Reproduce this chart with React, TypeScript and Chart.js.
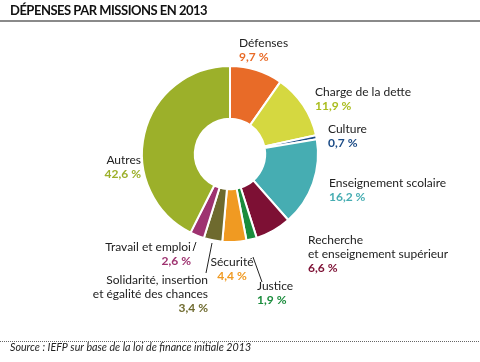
import React, { useEffect, useRef } from "react";
import { Chart, registerables } from "chart.js";

Chart.register(...registerables);

const categories = [
  "Défenses",
  "Charge de la dette",
  "Culture",
  "Enseignement scolaire",
  "Recherche\net enseignement supérieur",
  "Justice",
  "Sécurité",
  "Solidarité, insertion\net égalité des chances",
  "Travail et emploi",
  "Autres",
];
const values = [9.7, 11.9, 0.7, 16.2, 6.6, 1.9, 4.4, 3.4, 2.6, 42.6];
const colors = [
  "#E86B28",
  "#D5D840",
  "#1C4C87",
  "#46ADB2",
  "#7D1034",
  "#1A8C3C",
  "#F09A22",
  "#6E6A2E",
  "#9E3270",
  "#9CB02A",
];
const valueColors = [
  "#E86B28",
  "#AABD1E",
  "#1C4C87",
  "#46ADB2",
  "#7D1034",
  "#1A8C3C",
  "#F09A22",
  "#6E6A2E",
  "#9E3270",
  "#9CB02A",
];
// label anchor offsets from the doughnut centre, text alignment, leader line
const labelPos: { dx: number; dy: number; align: CanvasTextAlign; leader?: [number, number, number, number] }[] = [
  { dx: 9, dy: -111, align: "left" },
  { dx: 85, dy: -62, align: "left" },
  { dx: 98, dy: -25, align: "left" },
  { dx: 99, dy: 29, align: "left" },
  { dx: 78, dy: 86, align: "left" },
  { dx: 27, dy: 132, align: "left", leader: [23, 103, 32, 128] },
  { dx: 2, dy: 108, align: "center" },
  { dx: -22, dy: 126, align: "right", leader: [-18, 89, -24, 119] },
  { dx: -39, dy: 93, align: "right", leader: [-34, 88, -37, 97] },
  { dx: -89, dy: 6, align: "right" },
];
const title = "DÉPENSES PAR MISSIONS EN 2013";
const source = "Source : IEFP sur base de la loi de finance initiale 2013";

const fmt = (v: number) => v.toFixed(1).replace(".", ",") + " %";

const FONT = "Lato, 'Open Sans', sans-serif";

const decorPlugin = {
  id: "decor",
  afterDraw(chart: any) {
    const ctx = chart.ctx as CanvasRenderingContext2D;
    ctx.save();
    // title
    ctx.fillStyle = "#111";
    ctx.font = `bold 13px ${FONT}`;
    ctx.textAlign = "left";
    ctx.textBaseline = "middle";
    (ctx as any).letterSpacing = "-0.5px";
    ctx.fillText(title, 10, 11);
    (ctx as any).letterSpacing = "0px";
    ctx.fillStyle = "#8a8a8a";
    ctx.fillRect(0, 20, 480, 2);
    // dotted line
    ctx.fillStyle = "#666";
    for (let x = 0; x < 480; x += 2) ctx.fillRect(x, 341, 1, 1);
    ctx.fillStyle = "#222";
    ctx.font = `italic 10.7px ${FONT}`;
    ctx.fillText(source, 10, 348);

    const meta = chart.getDatasetMeta(0);
    const arc0 = meta.data[0];
    const cx = arc0.x;
    const cy = arc0.y;
    labelPos.forEach((p, i) => {
      const lines = categories[i].split("\n");
      const x = cx + p.dx;
      let y = cy + p.dy;
      ctx.textAlign = p.align;
      ctx.textBaseline = "middle";
      ctx.font = `12px ${FONT}`;
      ctx.fillStyle = "#222";
      lines.forEach((l) => {
        ctx.fillText(l, x, y);
        y += 14;
      });
      ctx.font = `bold 12px ${FONT}`;
      ctx.fillStyle = valueColors[i];
      ctx.fillText(fmt(values[i]), x, y);
      if (p.leader) {
        ctx.strokeStyle = "#222";
        ctx.lineWidth = 1;
        ctx.beginPath();
        ctx.moveTo(cx + p.leader[0], cy + p.leader[1]);
        ctx.lineTo(cx + p.leader[2], cy + p.leader[3]);
        ctx.stroke();
      }
    });
    ctx.restore();
  },
};

export default function App() {
  const ref = useRef<HTMLCanvasElement>(null);
  useEffect(() => {
    document.body.style.margin = "0";
    const chart = new Chart(ref.current!, {
      type: "doughnut",
      data: {
        labels: categories,
        datasets: [
          {
            data: values,
            backgroundColor: colors,
            borderColor: "#ffffff",
            borderWidth: 2,
          },
        ],
      },
      options: {
        responsive: false,
        animation: false,
        cutout: "40%",
        layout: { padding: { top: 65, bottom: 119, left: 141, right: 161 } },
        plugins: { legend: { display: false }, tooltip: { enabled: false } },
      },
      plugins: [decorPlugin],
    });
    return () => chart.destroy();
  }, []);
  return (
    <div style={{ width: 480, height: 362, background: "#fff" }}>
      <canvas ref={ref} width={480} height={362} />
    </div>
  );
}
